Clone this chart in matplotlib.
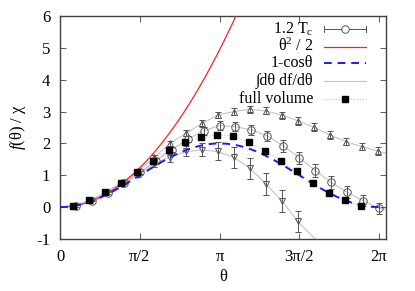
import numpy as np
import matplotlib
matplotlib.use("Agg")
import matplotlib.pyplot as plt

plt.rcParams['font.family'] = ['Liberation Serif', 'DejaVu Serif']
plt.rcParams['mathtext.fontset'] = 'custom'
plt.rcParams['mathtext.rm'] = 'Liberation Serif'
plt.rcParams['mathtext.it'] = 'Liberation Serif:italic'
plt.rcParams['font.size'] = 11.5

# ---------------- data ----------------
# 1.2 Tc (circles)
theta_circ = [0.314, 0.628, 0.942, 1.257, 1.571, 1.885, 2.199, 2.513, 2.827, 3.142,
              3.456, 3.770, 4.084, 4.398, 4.712, 5.027, 5.341, 5.655, 5.969, 6.283]
f_circ = [0.04, 0.20, 0.45, 0.76, 1.09, 1.46, 1.80, 2.13, 2.40, 2.56,
          2.53, 2.42, 2.24, 1.92, 1.55, 1.15, 0.78, 0.47, 0.20, -0.03]
err_circ = [0.02, 0.02, 0.03, 0.04, 0.05, 0.07, 0.08, 0.10, 0.12, 0.14,
            0.15, 0.16, 0.15, 0.18, 0.19, 0.20, 0.20, 0.18, 0.17, 0.17]

# upper temperature (up triangles)
theta_up = [0.284, 0.598, 0.912, 1.227, 1.541, 1.855, 2.169, 2.483, 2.797, 3.112,
            3.426, 3.740, 4.054, 4.368, 4.682, 4.997, 5.311, 5.625, 5.939, 6.253]
f_up = [0.05, 0.21, 0.47, 0.79, 1.14, 1.56, 2.01, 2.32, 2.63, 2.90,
        3.00, 3.07, 3.02, 2.89, 2.71, 2.51, 2.27, 2.06, 1.90, 1.76]
err_up = [0.02, 0.03, 0.04, 0.05, 0.06, 0.07, 0.08, 0.09, 0.10, 0.10,
          0.11, 0.11, 0.11, 0.11, 0.12, 0.12, 0.12, 0.12, 0.12, 0.12]

# lower temperature (down triangles)
theta_dn = [0.284, 0.598, 0.912, 1.227, 1.541, 1.855, 2.169, 2.483, 2.797, 3.112,
            3.426, 3.740, 4.054, 4.368, 4.682]
f_dn = [0.04, 0.19, 0.43, 0.72, 1.02, 1.36, 1.55, 1.76, 1.80, 1.76,
        1.56, 1.22, 0.73, 0.20, -0.45]
err_dn = [0.02, 0.03, 0.04, 0.05, 0.07, 0.09, 0.12, 0.15, 0.20, 0.27,
          0.32, 0.33, 0.34, 0.35, 0.33]
# integral curve through the lower temperature data, continued below the axis
theta_dn_int = [0.0, 0.284, 0.598, 0.912, 1.227, 1.541, 1.855, 2.169, 2.483, 2.797,
                3.112, 3.426, 3.740, 4.054, 4.368, 4.682, 4.997, 5.311]
f_dn_int = [0.0, 0.04, 0.19, 0.43, 0.72, 1.02, 1.36, 1.58, 1.74, 1.80,
            1.74, 1.56, 1.22, 0.73, 0.20, -0.45, -0.95, -1.5]

# full volume (squares)
theta_sq = [0.264, 0.578, 0.892, 1.207, 1.521, 1.835, 2.149, 2.463, 2.777, 3.092,
            3.406, 3.720, 4.034, 4.348, 4.662, 4.977, 5.291, 5.605, 5.919]
f_sq = [0.04, 0.22, 0.46, 0.77, 1.11, 1.46, 1.79, 2.04, 2.19, 2.27,
        2.24, 2.03, 1.77, 1.46, 1.12, 0.75, 0.45, 0.22, 0.04]

xtick_vals = [0, np.pi / 2, np.pi, 3 * np.pi / 2, 2 * np.pi]
xtick_labels = ['0', 'π/2', 'π', '3π/2', '2π']
ytick_vals = [-1, 0, 1, 2, 3, 4, 5, 6]

# analytic curves
th = np.linspace(0, 2 * np.pi, 400)
quad = th ** 2 / 2
cosc = 1 - np.cos(th)

# ---------------- figure ----------------
fig = plt.figure(figsize=(4.15, 2.91), dpi=100)
ax = fig.add_axes([0.1446, 0.1787, 0.7855, 0.7663])

gray_line = '#c4c4c4'
mk_col = '#555555'

# integral curves (light gray)
ax.plot([0] + theta_up + [6.45], [0] + f_up + [1.68], color=gray_line, lw=0.8, zorder=1)
ax.plot([0] + theta_circ + [6.45], [0] + f_circ + [-0.08], color=gray_line, lw=0.8, zorder=1)
ax.plot(theta_dn_int, f_dn_int, color=gray_line, lw=0.8, zorder=1)
ax.plot([0] + theta_sq, [0] + f_sq, color=gray_line, lw=0.8, ls=':', zorder=1)

# data with error bars
ax.errorbar(theta_up, f_up, yerr=err_up, fmt='^', ms=5.0, mfc='none', mec=mk_col,
            mew=0.7, ecolor=mk_col, elinewidth=0.7, capsize=2, capthick=0.7, zorder=3)
ax.errorbar(theta_dn, f_dn, yerr=err_dn, fmt='v', ms=5.0, mfc='none', mec=mk_col,
            mew=0.7, ecolor=mk_col, elinewidth=0.7, capsize=2, capthick=0.7, zorder=3)
ax.errorbar(theta_circ, f_circ, yerr=err_circ, fmt='o', ms=5.4, mfc='none', mec=mk_col,
            mew=0.7, ecolor=mk_col, elinewidth=0.7, capsize=2, capthick=0.7, zorder=3)

ax.plot(th, quad, color='#ff2020', lw=0.9, zorder=4)
ax.plot(th, cosc, color='#1a1aff', lw=1.4, ls=(0, (4, 3)), zorder=4)

ax.plot(theta_sq, f_sq, ls='none', marker='s', ms=5.0, color='black', zorder=5)

# axes styling
ax.set_xlim(0, 6.42)
ax.set_ylim(-1, 6)
ax.set_xticks(xtick_vals)
ax.set_xticklabels(xtick_labels)
ax.set_yticks(ytick_vals)
ax.set_yticklabels([str(v) for v in ytick_vals])
ax.tick_params(direction='in', length=4, width=0.6, top=True, right=True,
               colors='#404040', labelcolor='black', pad=7, labelsize=12)
for s in ax.spines.values():
    s.set_color('#404040')
    s.set_linewidth(1.0)

ax.set_xlabel('θ', labelpad=3, fontsize=12)
ax.set_ylabel(r'$f$(θ) / χ', labelpad=6, fontsize=12)

# legend (gnuplot style: text right-aligned, sample to the right)
tr = ax.transAxes
lx0, lx1, tx = 0.81, 0.939, 0.776
rows = [0.942, 0.862, 0.788, 0.709, 0.627]
labels = [r'1.2 T$_\mathrm{c}$', r'θ$^2$ / 2', '1-cosθ', '∫dθ df/dθ', 'full volume']
for y, lab in zip(rows, labels):
    ax.text(tx, y, lab, transform=tr, ha='right', va='center', fontsize=11.5)
# 1.2 Tc sample
ax.plot([lx0, lx1], [rows[0]] * 2, transform=tr, color=mk_col, lw=0.7, clip_on=False)
ax.plot([lx0, lx0], [rows[0] - 0.012, rows[0] + 0.012], transform=tr, color=mk_col, lw=0.7)
ax.plot([lx1, lx1], [rows[0] - 0.012, rows[0] + 0.012], transform=tr, color=mk_col, lw=0.7)
ax.plot([(lx0 + lx1) / 2], [rows[0]], transform=tr, marker='o', ms=5.4, mfc='white',
        mec=mk_col, mew=0.7)
ax.plot([lx0, lx1], [rows[1]] * 2, transform=tr, color='#ff2020', lw=0.9)
ax.plot([lx0, lx1], [rows[2]] * 2, transform=tr, color='#1a1aff', lw=1.4, ls=(0, (4, 3)))
ax.plot([lx0, lx1], [rows[3]] * 2, transform=tr, color=gray_line, lw=0.8)
ax.plot([lx0, lx1], [rows[4]] * 2, transform=tr, color=gray_line, lw=0.8, ls=':')
ax.plot([(lx0 + lx1) / 2], [rows[4]], transform=tr, marker='s', ms=5, color='black')

fig.savefig('out.png', dpi=100)
